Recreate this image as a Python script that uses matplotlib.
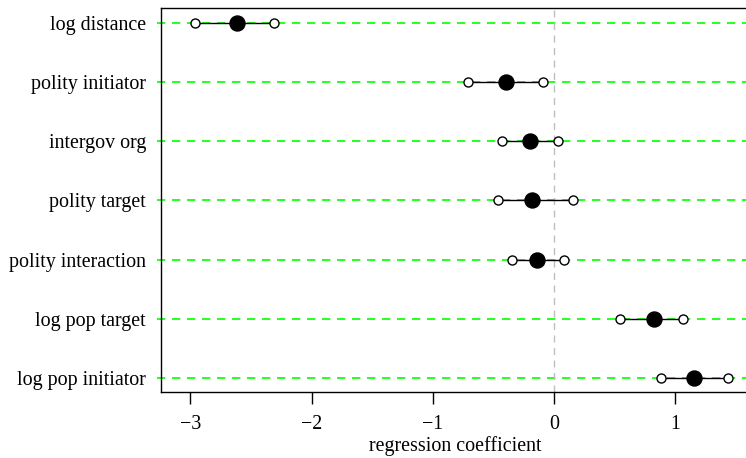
import matplotlib
matplotlib.use("Agg")
import matplotlib.pyplot as plt

labels = ["log distance", "polity initiator", "intergov org", "polity target",
          "polity interaction", "log pop target", "log pop initiator"]
coef = [-2.62, -0.40, -0.20, -0.18, -0.14, 0.825, 1.153]
lower = [-2.96, -0.707, -0.427, -0.465, -0.347, 0.547, 0.880]
upper = [-2.31, -0.093, 0.036, 0.154, 0.085, 1.067, 1.436]
xticks = [-3, -2, -1, 0, 1]

plt.rcParams['font.family'] = ['Liberation Serif', 'DejaVu Serif']
fs = 14.4

fig = plt.figure(figsize=(7.46, 4.58), dpi=100)
ax = fig.add_axes([161/746, 1 - 392/458, (750 - 161)/746, (392 - 8.3)/458])

n = len(labels)
ypos = [n - i for i in range(n)]

for y in ypos:
    ax.axhline(y, xmin=-0.006, xmax=1, color='#00FF00', lw=1.2,
               dashes=(5, 4), clip_on=False, zorder=1)
ax.axvline(0, color='#BEBEBE', lw=1.0, dashes=(5, 4), zorder=1)

for y, c, lo, hi in zip(ypos, coef, lower, upper):
    ax.plot([lo, hi], [y, y], color='black', lw=1.0, zorder=2)
    ax.plot([lo, hi], [y, y], 'o', ms=6.5, mfc='white', mec='black', mew=1.0,
            linestyle='none', zorder=3)
    ax.plot([c], [y], 'o', ms=10.8, color='black', zorder=4)

ax.set_xlim(-3.243, 1.617)
ax.set_ylim(0.77, 7.24)
ax.set_xticks(xticks)
ax.set_xticklabels(["\u22123", "\u22122", "\u22121", "0", "1"], fontsize=fs)
ax.set_yticks(ypos)
ax.set_yticklabels(labels, fontsize=fs)
ax.tick_params(axis='y', length=0, pad=10.8)
ax.tick_params(axis='x', length=8.6, width=1.0, pad=8)
ax.set_xlabel("regression coefficient", fontsize=fs, labelpad=1.5)
for s in ax.spines.values():
    s.set_linewidth(1.0)

fig.savefig("out.png", dpi=100)
